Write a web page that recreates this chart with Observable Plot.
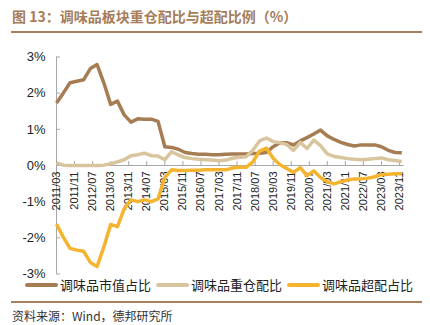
<!DOCTYPE html>
<html><head><meta charset="utf-8">
<script src="https://cdn.jsdelivr.net/npm/d3@7"></script>
<script src="https://cdn.jsdelivr.net/npm/@observablehq/plot@0.6"></script>
<style>
body{margin:0;background:#fff;}
#wrap{position:relative;width:430px;height:325px;overflow:hidden;font-family:"Liberation Sans",Arial,sans-serif;}
#title{position:absolute;left:12px;top:6px;font-weight:bold;font-size:14px;font-family:"Noto Sans CJK SC";color:#a57d5a;white-space:nowrap;line-height:20px}
.rule{position:absolute;left:11px;width:411px;height:2px;background:#a97f5c}
#chart{position:absolute;left:0;top:40px}
#legend{position:absolute;left:25px;top:276px;display:flex;align-items:center;font-size:13px;font-family:"Noto Sans CJK SC";color:#222;white-space:nowrap;line-height:18px}
.sw{display:inline-block;width:33px;height:4px;border-radius:2px;margin-right:2px}
.item{display:flex;align-items:center;margin-right:5px}
#source{position:absolute;left:12px;top:307px;font-size:12px;font-family:"Noto Sans CJK SC";color:#333;line-height:18px;white-space:nowrap}
</style></head>
<body>
<div id="wrap">
  <div id="title">图 13：调味品板块重仓配比与超配比例（%）</div>
  <div class="rule" style="top:31px"></div>
  <div id="chart"></div>
  <div id="legend"></div>
  <div class="rule" style="top:301px"></div>
  <div id="source">资料来源：Wind，德邦研究所</div>
</div>
<script>
const quarters = ["2011/03","2011/06","2011/09","2011/12","2012/03","2012/06","2012/09","2012/12",
"2013/03","2013/06","2013/09","2013/12","2014/03","2014/06","2014/09","2014/12",
"2015/03","2015/06","2015/09","2015/12","2016/03","2016/06","2016/09","2016/12",
"2017/03","2017/06","2017/09","2017/12","2018/03","2018/06","2018/09","2018/12",
"2019/03","2019/06","2019/09","2019/12","2020/03","2020/06","2020/09","2020/12",
"2021/03","2021/06","2021/09","2021/12","2022/03","2022/06","2022/09","2022/12",
"2023/03","2023/06","2023/09","2023/12"];

const marketShare = [1.73,2.00,2.29,2.33,2.37,2.68,2.79,2.28,1.69,1.78,1.40,1.20,1.29,1.28,1.28,1.22,
0.52,0.50,0.45,0.36,0.33,0.31,0.31,0.30,0.30,0.31,0.32,0.32,0.32,0.33,0.34,0.36,
0.52,0.63,0.63,0.57,0.68,0.77,0.87,0.98,0.82,0.72,0.64,0.58,0.54,0.57,0.57,0.57,0.52,0.42,0.36,0.35];

const heavyShare = [0.07,0.01,0.00,0.00,0.00,0.00,0.00,0.01,0.05,0.10,0.16,0.27,0.30,0.34,0.27,0.26,
0.16,0.38,0.29,0.22,0.19,0.17,0.16,0.15,0.13,0.15,0.20,0.23,0.24,0.42,0.68,0.76,
0.66,0.63,0.58,0.42,0.64,0.47,0.70,0.55,0.32,0.25,0.22,0.19,0.17,0.16,0.17,0.19,0.21,0.16,0.14,0.11];

const overweight = [-1.62,-1.98,-2.29,-2.34,-2.37,-2.68,-2.79,-2.25,-1.63,-1.69,-1.20,-0.95,-1.00,-0.95,-1.00,-0.92,
-0.33,-0.12,-0.14,-0.14,-0.13,-0.13,-0.12,-0.12,-0.12,-0.12,-0.07,-0.05,-0.05,0.10,0.40,0.48,
0.20,0.02,-0.08,-0.19,-0.06,-0.28,-0.15,-0.33,-0.45,-0.51,-0.45,-0.40,-0.37,-0.37,-0.35,-0.31,-0.25,-0.24,-0.23,-0.23];

const seriesNames = ["调味品市值占比","调味品重仓配比","调味品超配占比"];
const seriesColors = ["#a67c53","#d9c59d","#f5b430"];
const xTickLabels = ["2011/03","2011/11","2012/07","2013/03","2013/11","2014/07","2015/03","2015/11",
"2016/07","2017/03","2017/11","2018/07","2019/03","2019/11","2020/07","2021/03","2021/11","2022/07","2023/03","2023/11"];
const yTicks = [-3,-2,-1,0,1,2,3];

const toM = s => { const [y, m] = s.split("/").map(Number); return (y - 2011) * 12 + (m - 3); };
const seriesValues = [marketShare, heavyShare, overweight];
const axisColor = "#a6a6a6";

const lineMarks = seriesValues.map((vals, k) =>
  Plot.line(quarters.map((q, i) => ({m: toM(q), v: vals[i]})), {
    x: "m", y: "v", stroke: seriesColors[k], strokeWidth: 3.5,
    strokeLinejoin: "round", strokeLinecap: "butt"
  })
);

const chart = Plot.plot({
  width: 430, height: 240,
  marginLeft: 56, marginRight: 28.7, marginTop: 16.5, marginBottom: 6.5,
  x: {domain: [0, 153], axis: null},
  y: {domain: [-3, 3], axis: null},
  style: {fontFamily: "Liberation Sans, Arial, sans-serif", fontSize: "13px", color: "#222", background: "transparent"},
  marks: [
    Plot.ruleX([0], {y1: -3, y2: 3, stroke: axisColor}),
    Plot.ruleY(yTicks, {y: d => d, x1: 0, x2: 1.8, stroke: axisColor}),
    Plot.text(yTicks, {x: 0, y: d => d, text: d => d + "%", textAnchor: "end", dx: -11, fontSize: 13, fill: "#222"}),
    Plot.ruleY([0], {x1: 0, x2: 154, stroke: axisColor}),
    Plot.ruleX(xTickLabels, {x: d => toM(d), y1: 0, y2: 0.11, stroke: axisColor}),
    Plot.text(xTickLabels, {x: d => toM(d), y: 0, text: d => d, rotate: -90, textAnchor: "end", dy: 6, fontSize: 11, fill: "#222"}),
    ...lineMarks
  ]
});
document.getElementById("chart").appendChild(chart);

const legend = document.getElementById("legend");
seriesNames.forEach((n, k) => {
  const it = document.createElement("span");
  it.className = "item";
  it.innerHTML = `<span class="sw" style="background:${seriesColors[k]}"></span><span>${n}</span>`;
  legend.appendChild(it);
});
</script>
</body></html>
